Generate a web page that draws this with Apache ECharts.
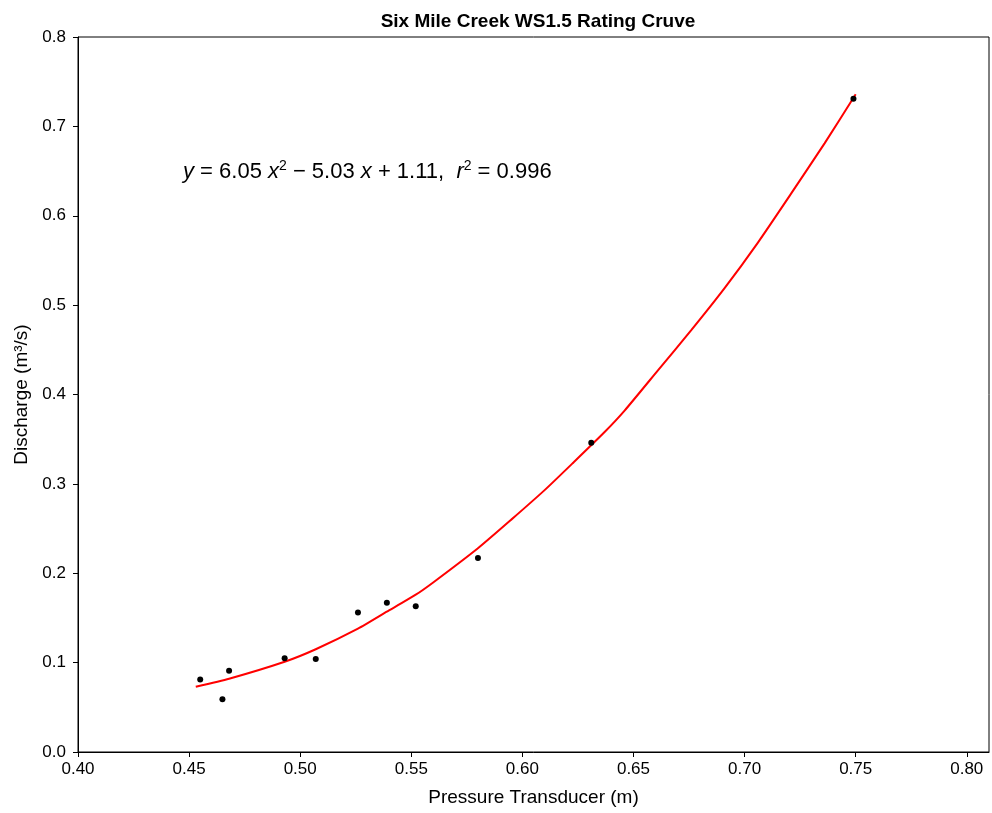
<!DOCTYPE html>
<html>
<head>
<meta charset="utf-8">
<script src="https://cdn.jsdelivr.net/npm/echarts@6/dist/echarts.min.js"></script>
<style>
html, body { margin: 0; padding: 0; background: #fff; }
#chart { width: 992px; height: 813px; }
</style>
</head>
<body>
<div id="chart"></div>
<script>
// measured points (pressure transducer m, discharge m3/s)
var obsX = [0.455, 0.465, 0.468, 0.493, 0.507, 0.526, 0.539, 0.552, 0.580, 0.631, 0.749];
var obsY = [0.081, 0.059, 0.091, 0.105, 0.104, 0.156, 0.167, 0.163, 0.217, 0.346, 0.731];

// fitted rating curve
var fitX = [0.453, 0.468, 0.493, 0.507, 0.526, 0.539, 0.552, 0.560, 0.580, 0.595, 0.610, 0.623, 0.637, 0.646, 0.661, 0.676, 0.691, 0.706, 0.721, 0.736, 0.750];
var fitY = [0.073, 0.082, 0.101, 0.115, 0.138, 0.157, 0.176, 0.190, 0.228, 0.260, 0.293, 0.324, 0.358, 0.382, 0.427, 0.472, 0.519, 0.570, 0.625, 0.681, 0.736];

var xTicks = [0.40, 0.45, 0.50, 0.55, 0.60, 0.65, 0.70, 0.75, 0.80];
var yTicks = [0.0, 0.1, 0.2, 0.3, 0.4, 0.5, 0.6, 0.7, 0.8];

var titleText = 'Six Mile Creek WS1.5 Rating Cruve';
var eqText = '{n|}{i|y} = 6.05 {i|x}{s|2} \u2212 5.03 {i|x} + 1.11,  {i|r}{s|2} = 0.996';

var font = 'Arial, "Liberation Sans", sans-serif';

var chart = echarts.init(document.getElementById('chart'));

var obs = obsX.map(function (x, i) { return [x, obsY[i]]; });
var fit = fitX.map(function (x, i) { return [x, fitY[i]]; });

var option = {
  backgroundColor: '#fff',
  animation: false,
  title: [
    {
      text: titleText,
      left: 533, top: 7, textAlign: 'center',
      textStyle: { fontFamily: font, fontSize: 19, fontWeight: 'bold', color: '#000' }
    },
    {
      text: eqText,
      left: 178, top: 154,
      textStyle: {
        fontFamily: font, fontSize: 22, fontWeight: 'normal', color: '#000', lineHeight: 26,
        rich: {
          n: { fontFamily: font, fontSize: 22, lineHeight: 26 },
          i: { fontFamily: font, fontSize: 22, fontStyle: 'italic', color: '#000', lineHeight: 26 },
          s: { fontFamily: font, fontSize: 14, color: '#000', verticalAlign: 'top', lineHeight: 14 }
        }
      }
    }
  ],
  grid: {
    left: 78, right: 3, top: 37, bottom: 61,
    show: true, borderColor: '#000', borderWidth: 1, backgroundColor: '#fff'
  },
  xAxis: {
    type: 'value', min: 0.40, max: 0.81,
    name: 'Pressure Transducer (m)', nameLocation: 'middle', nameGap: 36,
    nameTextStyle: { fontFamily: font, fontSize: 19, color: '#000' },
    axisLine: { show: true, onZero: false, lineStyle: { color: '#000', width: 1 } },
    axisTick: { show: true, length: 5, customValues: xTicks, lineStyle: { color: '#000' } },
    axisLabel: {
      customValues: xTicks, margin: 9,
      fontFamily: font, fontSize: 17, color: '#000',
      formatter: function (v) { return v.toFixed(2); }
    },
    splitLine: { show: false }
  },
  yAxis: {
    type: 'value', min: 0, max: 0.8,
    name: 'Discharge (m\u00b3/s)', nameLocation: 'middle', nameGap: 39,
    nameTextStyle: { fontFamily: font, fontSize: 19, color: '#000' },
    axisLine: { show: true, onZero: false, lineStyle: { color: '#000', width: 1 } },
    axisTick: { show: true, length: 5, customValues: yTicks, lineStyle: { color: '#000' } },
    axisLabel: {
      customValues: yTicks, margin: 12,
      fontFamily: font, fontSize: 17, color: '#000',
      formatter: function (v) { return v.toFixed(1); }
    },
    splitLine: { show: false }
  },
  series: [
    {
      name: 'fit', type: 'line', data: fit, smooth: 0.2,
      showSymbol: false, symbol: 'none',
      lineStyle: { color: '#ff0000', width: 2 }, z: 2
    },
    {
      name: 'obs', type: 'scatter', data: obs,
      symbol: 'circle', symbolSize: 6,
      itemStyle: { color: '#000', opacity: 1 }, z: 3
    }
  ]
};

chart.setOption(option);
</script>
</body>
</html>
